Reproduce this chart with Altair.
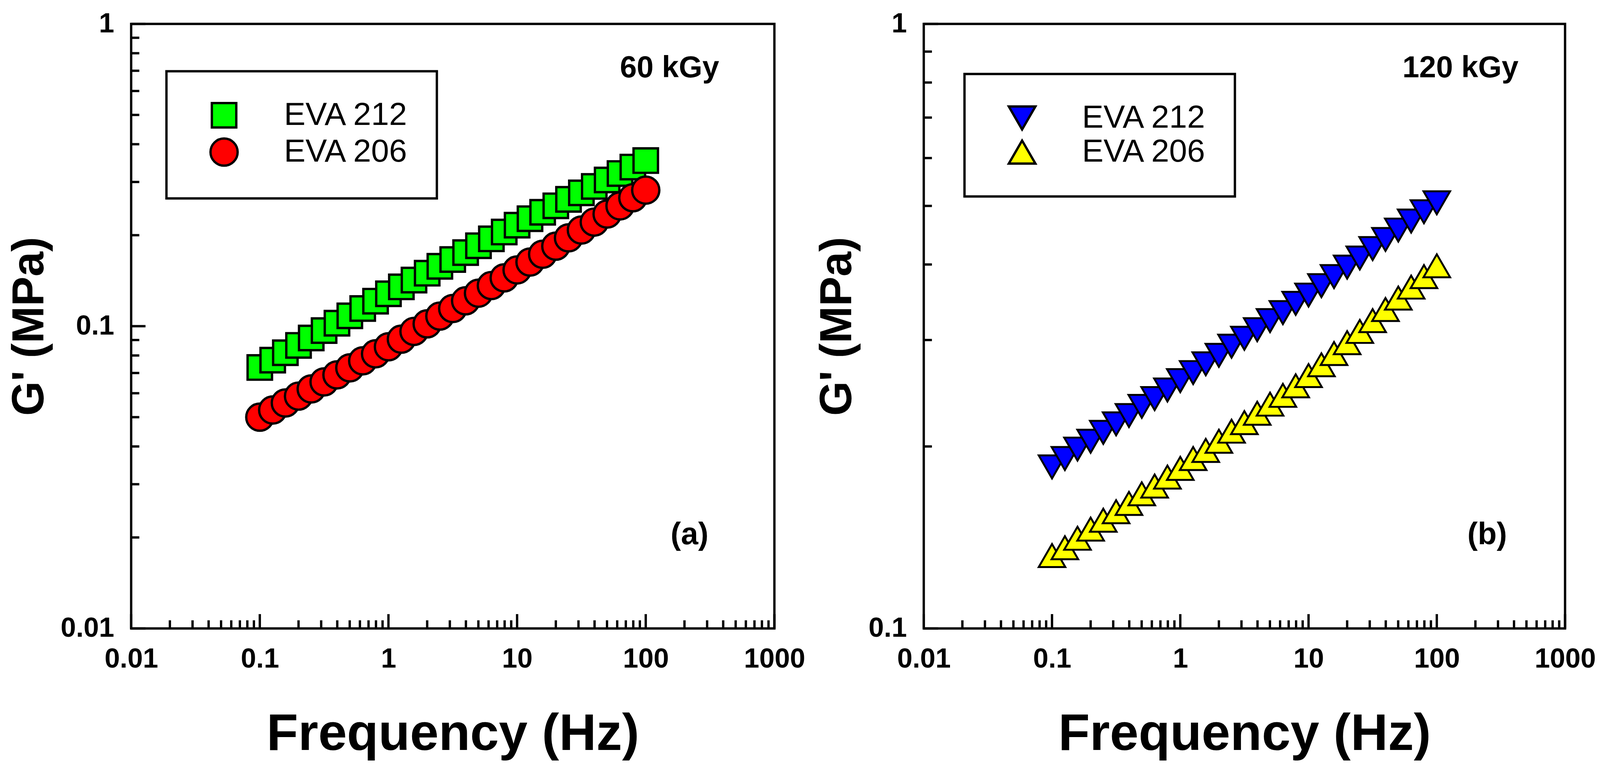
import altair as alt
import pandas as pd

# ---- data ----
freq = [0.1, 0.126, 0.158, 0.2, 0.251, 0.316, 0.398, 0.501, 0.631, 0.794,
        1.0, 1.26, 1.58, 2.0, 2.51, 3.16, 3.98, 5.01, 6.31, 7.94,
        10.0, 12.6, 15.8, 20.0, 25.1, 31.6, 39.8, 50.1, 63.1, 79.4, 100.0]

g60_212 = [0.073, 0.0772, 0.0817, 0.0864, 0.0914, 0.0967, 0.1023, 0.1082, 0.1144, 0.1210,
           0.128, 0.1349, 0.1421, 0.1497, 0.1578, 0.1662, 0.1752, 0.1846, 0.1945, 0.2049,
           0.2159, 0.2268, 0.2382, 0.2502, 0.2628, 0.2761, 0.2900, 0.3046, 0.3200, 0.3361, 0.3531]
g60_206 = [0.050, 0.0528, 0.0557, 0.0587, 0.0620, 0.0654, 0.0690, 0.0728, 0.0768, 0.0810,
           0.0855, 0.0906, 0.0961, 0.1018, 0.1080, 0.1144, 0.1213, 0.1286, 0.1363, 0.1445,
           0.1535, 0.163, 0.173, 0.184, 0.196, 0.208, 0.221, 0.235, 0.250, 0.266, 0.282]
g120_212 = [0.185, 0.191, 0.198, 0.204, 0.211, 0.218, 0.225, 0.233, 0.240, 0.248,
            0.257, 0.265, 0.274, 0.283, 0.293, 0.302, 0.312, 0.323, 0.333, 0.345,
            0.356, 0.369, 0.382, 0.396, 0.410, 0.425, 0.440, 0.456, 0.472, 0.489, 0.506]
g120_206 = [0.132, 0.136, 0.141, 0.146, 0.151, 0.156, 0.161, 0.167, 0.172, 0.178,
            0.184, 0.191, 0.197, 0.204, 0.212, 0.219, 0.227, 0.235, 0.243, 0.252,
            0.262, 0.273, 0.285, 0.297, 0.310, 0.323, 0.337, 0.352, 0.367, 0.382, 0.398]

series_names = ["EVA 212", "EVA 206"]

x_major = [0.01, 0.1, 1, 10, 100, 1000]
x_minor = [0.02, 0.03, 0.04, 0.05, 0.06, 0.07, 0.08, 0.09,
           0.2, 0.3, 0.4, 0.5, 0.6, 0.7, 0.8, 0.9,
           2, 3, 4, 5, 6, 7, 8, 9,
           20, 30, 40, 50, 60, 70, 80, 90,
           200, 300, 400, 500, 600, 700, 800, 900]
ya_major = [0.01, 0.1, 1]
ya_minor = [0.02, 0.03, 0.04, 0.05, 0.06, 0.07, 0.08, 0.09,
            0.2, 0.3, 0.4, 0.5, 0.6, 0.7, 0.8, 0.9]
yb_major = [0.1, 1]
yb_minor = [0.2, 0.3, 0.4, 0.5, 0.6, 0.7, 0.8, 0.9]

ann_a = [("60 kGy", 153, 0.665, 78), ("(a)", 219, 0.019, 80)]
ann_b = [("120 kGy", 153, 0.816, 78), ("(b)", 247, 0.1378, 80)]

FONT = "Liberation Sans"
H = 1559
MAJ = 37
MIN = 21


def panel(v1, v2, colors, shapes, sizes, ydom, ymaj, ymin, ann, W, lx, ly, sw):
    df = pd.DataFrame({
        "f": freq + freq,
        "g": v1 + v2,
        "s": [series_names[0]] * len(v1) + [series_names[1]] * len(v2),
    })
    xs = alt.Scale(type="log", domain=[0.01, 1000], nice=False)
    ys = alt.Scale(type="log", domain=ydom, nice=False)
    xax = alt.Axis(values=x_major, format="~g", title="Frequency (Hz)", titlePadding=94)
    yax = alt.Axis(values=ymaj, format="~g", title="G' (MPa)", titlePadding=21)
    leg = alt.Legend(title=None, orient="none", legendX=lx, legendY=ly,
                     symbolStrokeColor="black", symbolStrokeWidth=sw, labelLimit=2000)

    pts = alt.Chart(df).mark_point(filled=True, opacity=1, stroke="black", strokeWidth=sw).encode(
        x=alt.X("f:Q", scale=xs, axis=xax),
        y=alt.Y("g:Q", scale=ys, axis=yax),
        color=alt.Color("s:N", scale=alt.Scale(domain=series_names, range=colors), legend=leg),
        shape=alt.Shape("s:N", scale=alt.Scale(domain=series_names, range=shapes), legend=leg),
        size=alt.Size("s:N", scale=alt.Scale(domain=series_names, range=sizes), legend=leg),
    )

    def xticks(vals, ln):
        return alt.Chart(pd.DataFrame({"v": vals})).mark_rule(color="black", strokeWidth=6).encode(
            x=alt.X("v:Q", scale=xs, axis=xax),
            y=alt.value(H), y2=alt.value(H - ln))

    def yticks(vals, ln):
        return alt.Chart(pd.DataFrame({"v": vals})).mark_rule(color="black", strokeWidth=6).encode(
            y=alt.Y("v:Q", scale=ys, axis=yax),
            x=alt.value(0), x2=alt.value(ln))

    texts = []
    for lab, tx, ty, fs in ann:
        texts.append(
            alt.Chart(pd.DataFrame({"f": [tx], "g": [ty], "t": [lab]})).mark_text(
                font=FONT, fontSize=fs, fontWeight="bold", color="black",
                align="center", baseline="alphabetic").encode(
                x=alt.X("f:Q", scale=xs, axis=xax),
                y=alt.Y("g:Q", scale=ys, axis=yax),
                text="t:N"))

    return alt.layer(pts, xticks(x_minor, MIN), xticks(x_major, MAJ),
                     yticks(ymin, MIN), yticks(ymaj, MAJ),
                     *texts).properties(width=W, height=H)


left = panel(g60_212, g60_206, ["#00FF00", "#FF0000"], ["square", "circle"], [3970, 4900],
             [0.01, 1], ya_major, ya_minor, ann_a, 1658, 91, 122, 6)
right = panel(g120_212, g120_206, ["#0000FF", "#FFFF00"], ["triangle-down", "triangle-up"], [4700, 4700],
              [0.1, 1], yb_major, yb_minor, ann_b, 1653, 105, 129, 5)

chart = alt.hconcat(left, right, spacing=20).resolve_scale(
    color="independent", shape="independent", size="independent"
).properties(
    padding={"left": 7, "top": 8, "right": 0, "bottom": 0}, background="white"
).configure_view(
    stroke="black", strokeWidth=6
).configure_point(
    stroke="black", strokeWidth=6
).configure_axis(
    domain=False, ticks=False, grid=False,
    labelFont=FONT, labelFontSize=71, labelFontWeight="bold", labelColor="black",
    labelPadding=44, labelFlush=False, labelOverlap=False,
    titleFont=FONT, titleFontWeight="bold", titleColor="black"
).configure_axisX(
    titleFontSize=133
).configure_axisY(
    titleFontSize=115
).configure_legend(
    strokeColor="black", strokeWidth=6, fillColor="white", padding=72,
    labelFont=FONT, labelFontSize=83, labelFontWeight="normal", labelColor="black",
    symbolOpacity=1, rowPadding=3, labelOffset=113, symbolOffset=35
)

chart.save("out.html", embed_options={"renderer": "svg", "actions": False})
